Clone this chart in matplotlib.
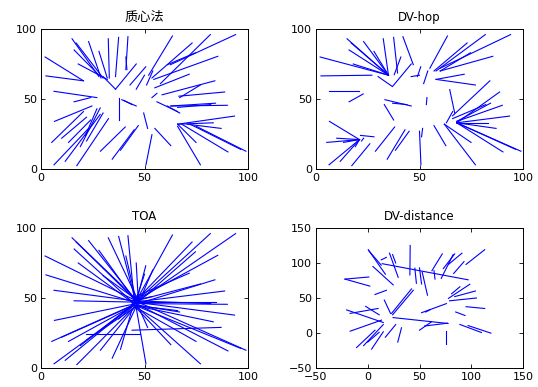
import numpy as np
import matplotlib
matplotlib.use("Agg")
import matplotlib.pyplot as plt

plt.rcParams['font.family'] = ['DejaVu Sans', 'Noto Sans CJK SC']

# true node positions (shared by the first three panels)
true_x = [2, 2.4, 15, 16, 17, 23, 28, 32.5, 37.5, 42, 18, 41, 30, 46, 50.6, 50, 54,
          6.3, 16, 6.5, 37.5, 46, 44, 51.5, 50.7, 53.6,
          63.5, 73, 81.8, 74.6, 85.4, 94, 71.6, 84, 77, 88.7, 67,
          84.3, 90, 82, 66, 93.5, 83.2, 87, 74.9, 90.3, 96.5, 99, 77, 62.7,
          5.2, 6.3, 11.7, 13.3, 17.3, 19, 28.7, 34.4, 38.4, 10, 22, 21.5]
true_y = [80, 66.5, 93, 85, 90, 91, 84, 93, 94, 94.5, 75, 80, 66, 75, 73, 67, 70,
          55.5, 48, 34, 35, 45, 46, 29, 3, 51,
          95, 90, 96, 83, 80.5, 96, 67.7, 63, 60, 55, 40,
          47, 45.5, 46, 41, 37.8, 33, 29, 19, 12.2, 14, 12.7, 3, 16.7,
          19, 3, 5.5, 19, 2.4, 16, 12.7, 7, 13.4, 22, 20, 24]

# centroid estimates
cent_x = [20.5, 20.5, 28, 28, 30, 29, 32, 33, 36, 41, 32, 41.5, 36, 36, 43, 46, 51,
          27, 24, 24.6, 37.5, 39, 40, 49.6, 53.6, 56,
          52, 53.6, 57.7, 61, 54.5, 62.5, 55, 58.5, 67, 66.6, 61,
          62.5, 63, 66, 56, 66, 66, 70.6, 66, 68, 72, 75, 66, 55,
          20.5, 23, 28.6, 24, 32.6, 28.6, 40.7, 45, 47, 22, 30, 27]
cent_y = [63, 63, 66, 67, 65, 65, 65, 65, 66, 71, 64, 71, 57, 57, 60, 57, 60,
          51, 51, 45, 51, 49.5, 49, 40, 24.5, 54,
          67, 65, 61, 74.5, 64, 74.5, 58, 53, 51, 52, 45,
          45, 45, 44, 48, 32, 32, 32, 32, 32, 32, 30.5, 30.5, 29,
          41, 29, 39, 35, 36, 43.6, 30, 28, 31, 37, 40, 43]

# DV-hop estimates
hop_x = [35, 27, 35, 35, 35, 35, 35, 35, 39.4, 47, 35, 37.8, 36.8, 37, 49, 46, 52,
         20.7, 22.8, 21, 33, 33.3, 37, 51, 50, 53.3,
         55, 57, 58, 60, 60, 60, 58, 66, 58, 68, 64.6,
         68, 68, 66, 63, 68, 68, 68, 62, 68, 68, 68, 62, 57,
         21, 21, 21, 21, 26, 21, 38, 43, 45, 21, 23, 28]
hop_y = [67, 67, 67, 67, 67, 67, 67, 67, 68.6, 74.5, 67, 67.4, 59, 59, 66, 66, 61,
         55.5, 53.6, 21, 46, 49.5, 47, 23, 27, 46,
         72, 70, 70, 70, 70, 72, 64, 38, 64, 33, 56.7,
         34, 34, 36, 33, 33, 33, 33, 32, 33, 33, 33, 32, 31,
         21, 21, 21, 21, 18, 21, 30, 28, 27, 21, 22, 23]

# TOA estimates
toa_x = [46, 45, 46, 45, 46, 45, 46, 47, 46, 45, 44, 46, 45, 47, 46, 46, 47,
         45, 47, 46, 45, 46, 45, 47, 46, 47,
         46, 45, 47, 46, 45, 46, 44, 47, 46, 45, 46,
         47, 46, 45, 44, 46, 44, 44, 45, 46, 45, 47, 46, 46,
         46, 45, 46, 44, 46, 45, 45, 46, 44, 45, 46, 48]
toa_y = [48, 47, 49, 46, 48, 50, 47, 48, 46, 49, 47, 48, 50, 48, 47, 49, 46,
         48, 47, 46, 45, 48, 47, 44, 43, 49,
         48, 47, 49, 46, 48, 47, 50, 46, 48, 47, 45,
         47, 46, 48, 45, 47, 45, 27, 44, 46, 45, 47, 44, 43,
         46, 45, 47, 44, 45, 46, 43, 44, 42, 45, 44, 24]

# DV-distance segments (start x/y, end x/y)
dvd_x0 = [-22, -22, 1, 0.5, 5, 13, 14, 21, 24, 41, 45.5, 50, 52.6, 62, 64, 71, 73, 78, 83,
          95, 7, 16, 23, 24, 52, 56, 24.5, 50, 55, -20.4, -17, -2, -17, -10.8, -4, 3.7,
          0, 17, 29, 76, 89, 97, 78, 79, 84, 95, 85, 81]
dvd_y0 = [77, 77, 117.5, 119, 95, 104.5, 99, 114, 112, 125, 92.6, 93, 87, 89, 89, 78, 92,
          98, 85, 98, 55, 47, 28, 26, 29, 30, 22, 4, 10, 33, 28, 38, 2.6, -20.8, -18, -23,
          -13, -6, -13, 2.6, 12.2, 10.6, 49.5, 46, 52, 37.6, 30, 56]
dvd_x1 = [1, 2, 13, 17, 24.6, 18, 97, 29.4, 27, 40.7, 47, 52, 57.7, 72, 65, 82.5, 84, 91,
          93, 113, 18, 22, 42.3, 44, 76, 60, 77.6, 61.6, 77, 15, 10, 11, 13.3, 7, 15, 15,
          11, 27, 32.6, 76, 109.8, 119, 98.6, 105, 104, 113, 94, 89]
dvd_y1 = [80, 67, 97, 84, 68.7, 108, 76, 79.6, 100, 83, 71, 70, 54, 113, 77, 112, 113,
          114, 102, 119, 61, 28, 63, 61, 42, 33, 13.6, 16, 14, 15, 35, 26, 18.4, 4, 12,
          1.7, 1, 12, 7.4, -15, 0.7, -0.2, 69.6, 50, 60, 35, 25, 66]

blue = (0, 0, 1)
fig = plt.figure(figsize=(5.38, 3.87), dpi=100)
boxes = [(41, 29), (316, 29), (41, 228), (316, 228)]
axes = []
for (px, py) in boxes:
    ax = fig.add_axes([px / 538, (387 - py - 140) / 387, 207 / 538, 140 / 387])
    axes.append(ax)

panels = [(cent_x, cent_y, "质心法"), (hop_x, hop_y, "DV-hop"), (toa_x, toa_y, "TOA")]
for ax, (ex, ey, title) in zip(axes[:3], panels):
    for i in range(len(true_x)):
        ax.plot([true_x[i], ex[i]], [true_y[i], ey[i]], color=blue, lw=0.8)
    ax.set_xlim(0, 100)
    ax.set_ylim(0, 100)
    ax.set_xticks([0, 50, 100])
    ax.set_yticks([0, 50, 100])

ax = axes[3]
for i in range(len(dvd_x0)):
    ax.plot([dvd_x0[i], dvd_x1[i]], [dvd_y0[i], dvd_y1[i]], color=blue, lw=0.8)
ax.set_xlim(-50, 150)
ax.set_ylim(-50, 150)
ax.set_xticks([-50, 0, 50, 100, 150])
ax.set_yticks([-50, 0, 50, 100, 150])

axes[0].set_title("质心法", fontsize=9.5, pad=6)
axes[1].set_title("DV-hop", fontsize=8.5, pad=6)
axes[2].set_title("TOA", fontsize=8.5, pad=6)
axes[3].set_title("DV-distance", fontsize=8.5, pad=6)

for ax in axes:
    ax.tick_params(direction="in", top=True, right=True, length=3, width=0.6,
                   labelsize=8, pad=3)
    for s in ax.spines.values():
        s.set_linewidth(0.7)

fig.savefig("out.png", dpi=100)
